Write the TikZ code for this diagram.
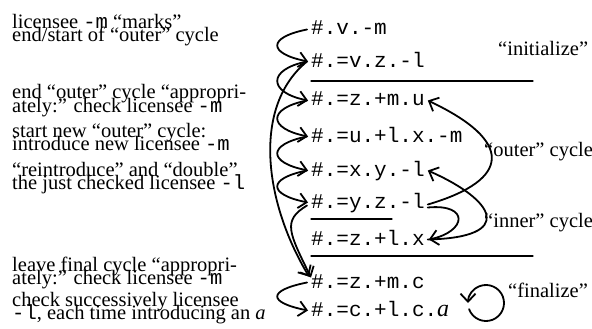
\documentclass[tikz,border=0pt]{standalone}
\usepackage{fontspec}
\setmainfont{Liberation Serif}
\setmonofont{Liberation Mono}
\usetikzlibrary{arrows.meta}

\begin{document}
\begin{tikzpicture}[x=1pt, y=-1pt, line cap=round,
  >={Straight Barb[length=8pt,width=15pt]},
  note/.style={anchor=base west, inner sep=0pt, font=\fontsize{20.5}{14}\selectfont},
  tag/.style={note},
  codeline/.style={anchor=base west, inner sep=0pt, text height=14pt, text depth=3pt,
                   font=\fontsize{21}{21}\ttfamily},
  flow/.style={->, line width=1.8pt},
  rule/.style={line width=1.2pt}]
  \useasboundingbox (0,0) rectangle (592,329);

  % comments on the left
  \node[note] (n1a) at (12,29)  {licensee \texttt{-m} “marks”};
  \node[note] (n1b) at (12,42)  {end/start of “outer” cycle};
  \node[note] (n2a) at (12,99)  {end “outer” cycle “appropri-};
  \node[note] (n2b) at (12,112) {ately:” check licensee \texttt{-m}};
  \node[note] (n3a) at (12,137) {start new “outer” cycle:};
  \node[note] (n3b) at (12,150) {introduce new licensee \texttt{-m}};
  \node[note] (n4a) at (12,176) {“reintroduce” and “double”};
  \node[note] (n4b) at (12,189) {the just checked licensee \texttt{-l}};
  \node[note] (n5a) at (12,271) {leave final cycle “appropri-};
  \node[note] (n5b) at (12,284) {ately:” check licensee \texttt{-m}};
  \node[note] (n6a) at (12,306) {check successively licensee};
  \node[note] (n6b) at (12,319) {\texttt{-l}, each time introducing an \textit{a}};

  % the program lines
  \node[codeline] (vm)   at (311,35)  {\#.v.-m};
  \node[codeline] (vzl)  at (311,67)  {\#.=v.z.-l};
  \node[codeline] (zmu)  at (311,106) {\#.=z.+m.u};
  \node[codeline] (ulxm) at (311,142) {\#.=u.+l.x.-m};
  \node[codeline] (xyl)  at (311,176) {\#.=x.y.-l};
  \node[codeline] (yzl)  at (311,208) {\#.=y.z.-l};
  \node[codeline] (zlx)  at (311,245) {\#.=z.+l.x};
  \node[codeline] (zmc)  at (311,288) {\#.=z.+m.c};
  \node[codeline] (clca) at (311,316) {\#.=c.+l.c.{\rmfamily\itshape\fontsize{24}{24}\selectfont a}};

  \draw[rule] (311,81) -- (533,81);
  \draw[rule] (311,219) -- (392,219);
  \draw[rule] (311,256) -- (533,256);

  % phase names
  \node[tag] (init) at (498,56)  {“initialize”};
  \node[tag] (outr) at (484,156) {“outer” cycle};
  \node[tag] (innr) at (484,227) {“inner” cycle};
  \node[tag] (fin)  at (508,297) {“finalize”};

  % left: step to step
  \draw[flow] ([xshift=-4pt]vm.west) .. controls +(-40,8) and +(-40,-8) .. ([xshift=-3pt]vzl.west);
  \draw[flow] ([xshift=-4pt]vzl.west) .. controls +(-40,8) and +(-40,-8) .. ([xshift=-3pt]zmu.west);
  \draw[flow] ([xshift=-4pt]zmu.west) .. controls +(-40,8) and +(-40,-8) .. ([xshift=-3pt]ulxm.west);
  \draw[flow] ([xshift=-4pt]ulxm.west) .. controls +(-40,8) and +(-40,-8) .. ([xshift=-3pt]xyl.west);
  \draw[flow] ([xshift=-4pt]xyl.west) .. controls +(-40,8) and +(-40,-8) .. ([xshift=-3pt]yzl.west);
  \draw[flow] ([xshift=-4pt]zmc.west) .. controls +(-40,8) and +(-40,-8) .. ([xshift=-3pt]clca.west);
  \draw[flow] ([xshift=-4pt]vzl.west) .. controls +(-55,45) and +(-45,-75) .. ([xshift=-2pt,yshift=6pt]zmc.west);
  \draw[flow] ([xshift=-4pt,yshift=-3pt]yzl.west) .. controls +(-25,15) and +(-22,-45) .. ([xshift=0pt,yshift=5pt]zmc.west);

  % right: the two cycles
  \draw[flow] ([xshift=3pt,yshift=-2pt]yzl.east) .. controls +(85,-25) and +(85,40) .. ([xshift=3pt]zmu.east);
  \draw[flow] ([xshift=3pt]zlx.east) .. controls +(88,-2) and +(68,30) .. ([xshift=3pt]xyl.east);
  \draw[flow] ([xshift=3pt,yshift=-5pt]yzl.east) .. controls +(42,-4) and +(38,-8) .. ([xshift=4pt]zlx.east);

  % final loop
  \coordinate (lp) at (486,303);
  \draw[flow] (lp) ++(160:18) arc[start angle=520, end angle=180, radius=18];
\end{tikzpicture}
\end{document}
